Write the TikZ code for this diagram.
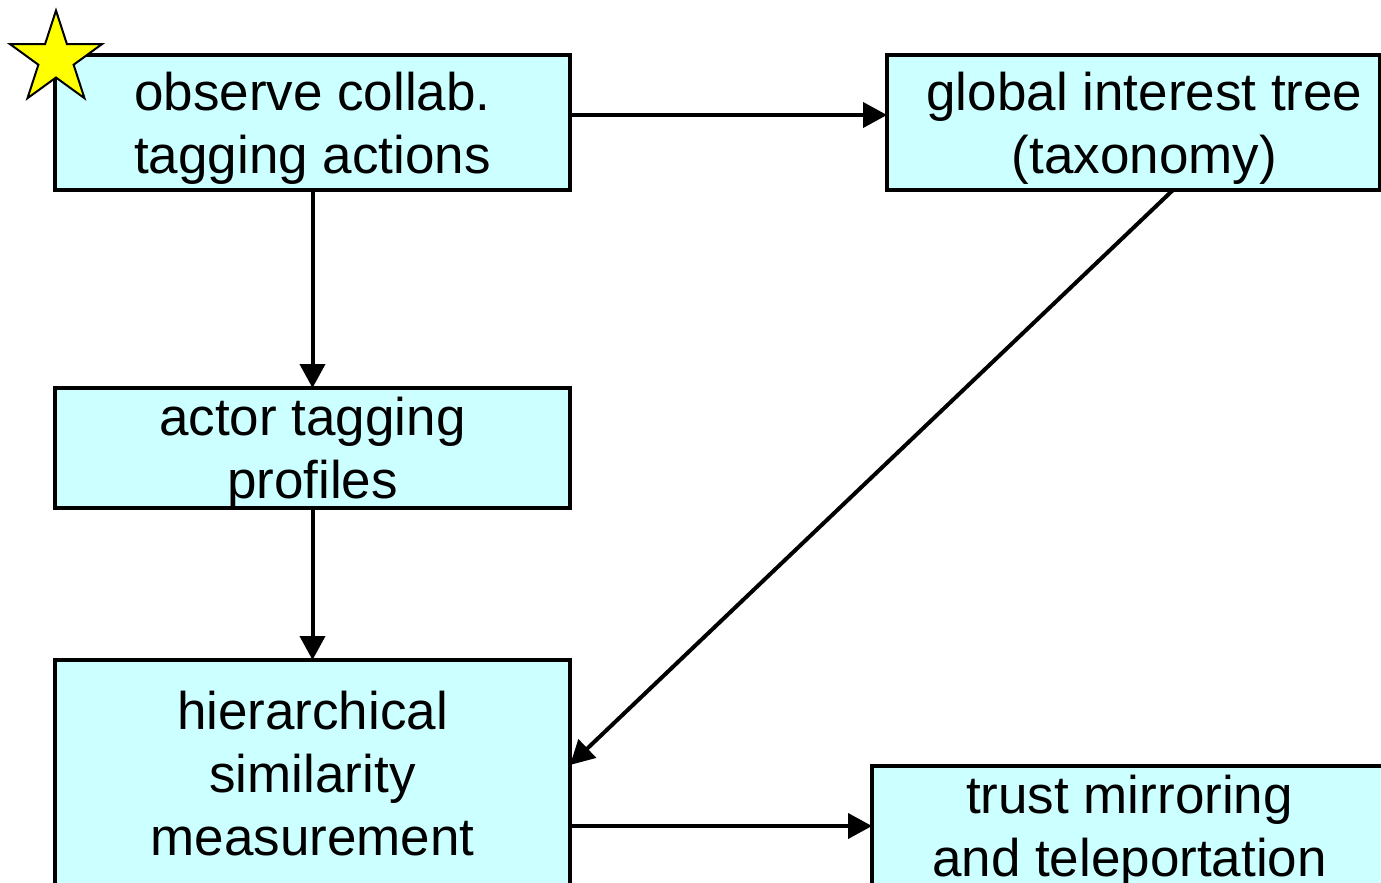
\documentclass[tikz,border=0pt]{standalone}
\usepackage{fontspec}
\setmainfont{Liberation Sans}
\usepackage{tikz}
\usetikzlibrary{arrows.meta,positioning,shapes.geometric}
\definecolor{boxcyan}{RGB}{204,255,255}
\definecolor{staryellow}{RGB}{255,255,0}
\newcommand{\topstrut}{\rule{0pt}{50pt}}
\newcommand{\botstrut}{\rule[-12pt]{0pt}{12pt}}

\begin{document}
\begin{tikzpicture}[-{Triangle[length=24pt,width=25pt]},line width=4pt,
                    x=1pt,y=1pt]
\tikzstyle{every node}=[font=\fontsize{53}{63}\selectfont]
\tikzstyle{box}=[align=center,draw,line width=3.5pt,fill=boxcyan,inner xsep=0pt,
                 inner ysep=-5pt,outer sep=0pt,minimum width=515pt,minimum height=135pt]
\clip (0,0) rectangle (1381,-883);
\node[box] (OBS) at (312.5,-122.5) {\topstrut observe collab.\\tagging actions\botstrut};
\node[box,minimum width=493pt,
      label={[align=center,xshift=11pt]center:\topstrut global interest tree\\(taxonomy)\botstrut}]
      (TREE) [right=317pt of OBS] {};
\node[box,minimum height=120pt] (PROF) [below=198pt of OBS]
      {\topstrut actor tagging\\profiles\botstrut};
\node[box,minimum height=226pt] (SIM) [below=152pt of PROF]
      {\topstrut hierarchical\\similarity\\measurement\botstrut};
\node[box,minimum height=120pt] (TRUST) [below right=106pt and 302pt of SIM.north east]
      {\topstrut trust mirroring\\and teleportation\botstrut};
\node[star,star points=5,star point ratio=2.618,minimum size=97pt,inner sep=0pt,
      draw,fill=staryellow,line width=2pt] (START) at (56,-59) {};

\coordinate (OT) at ([yshift=7.5pt]OBS.east);
\coordinate (TS) at ([xshift=286pt]TREE.south west);
\coordinate (ST) at ([yshift=-105pt]SIM.north east);
\path (OT) edge (OT -| TREE.west)
      (OBS) edge (PROF)
      (PROF) edge (SIM)
      (TS) edge (ST)
      (SIM.east |- TRUST.west) edge (TRUST.west);
\end{tikzpicture}
\end{document}
